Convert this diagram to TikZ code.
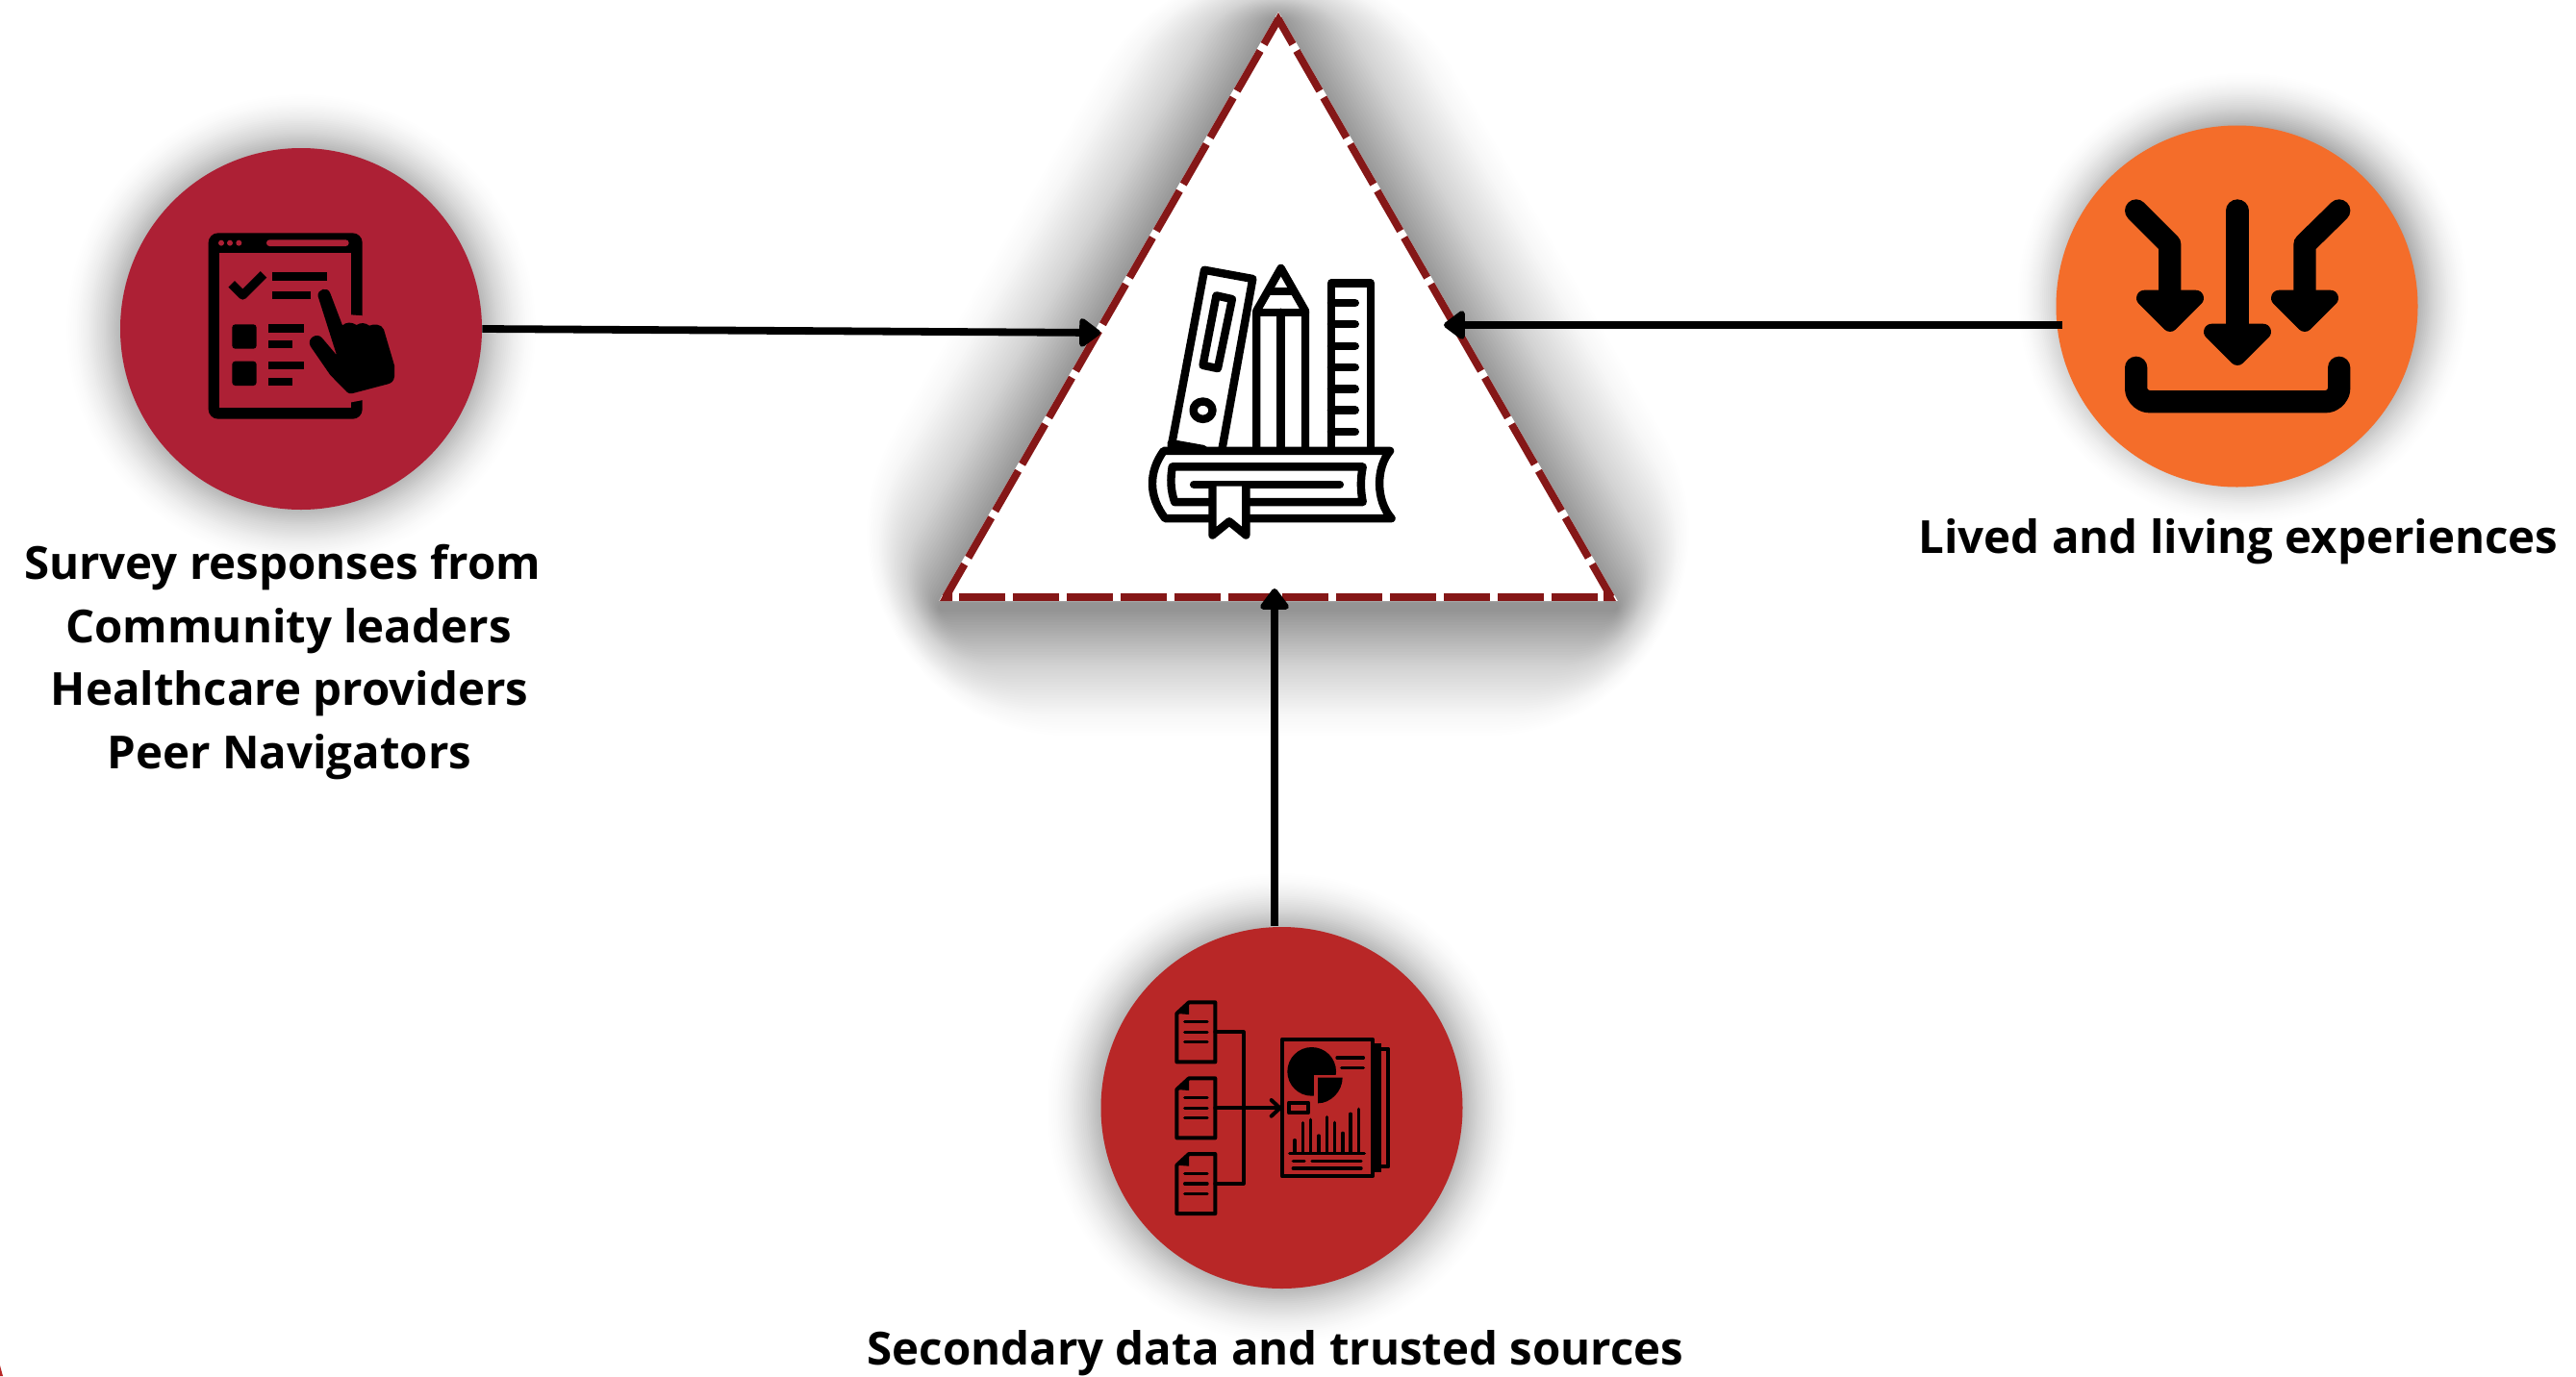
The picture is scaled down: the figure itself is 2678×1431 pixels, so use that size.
\documentclass[tikz,border=0pt]{standalone}
\usepackage{fontspec}
\setmainfont{Open Sans}
\usetikzlibrary{arrows.meta}
\definecolor{cA}{HTML}{AD2035}
\definecolor{cB}{HTML}{B82727}
\definecolor{cO}{HTML}{F46D2A}
\definecolor{cT}{HTML}{851717}
\tikzset{
 disc/.style={circle,inner sep=0pt,minimum size=188pt,fill=#1},
 label/.style={anchor=base,inner sep=0pt,font=\fontsize{23.7pt}{23.7pt}\selectfont\bfseries,text=black},
 link/.style={line width=3.9pt,black,-{Triangle[length=12pt,width=17pt,round]}},
 dashside/.style={cT,line width=3.9pt,dash pattern=on 24pt off 4pt},
 sk/.style={line cap=round,line join=round,draw=black},
}
\newcommand{\circshadow}[4]{% x y radius reach
 \foreach \i in {1,...,30}{
  \pgfmathsetmacro{\dd}{#4*\i/30}
  \pgfmathsetmacro{\oo}{0.0005+0.018*(1-\i/30)^0.7}
  \fill[black,opacity=\oo] (#1,#2) circle [radius=#3+\dd];
 }}
\begin{document}
\begin{tikzpicture}[x=0.5pt,y=-0.5pt]
\useasboundingbox (0,0) rectangle (2678,1431);
\fill[white] (0,0) rectangle (2678,1431);
\fill[cB] (0,1420)--(3,1431)--(0,1431)--cycle;

% shadows of the circles
\circshadow{313}{342}{182}{64}
\circshadow{2332}{310}{178}{58}
\circshadow{1332.5}{1152}{182}{64}

% shadow of the triangle
\foreach \i in {1,...,48}{
 \pgfmathsetmacro{\dd}{135*\i/48}
 \pgfmathsetmacro{\oo}{0.0005+0.0125*(1-\i/48)^0.5}
 \pgfmathsetmacro{\f}{1-0.6*\dd/204}
 \pgfmathsetmacro{\ax}{1328.5}
 \pgfmathsetmacro{\ay}{429-408*\f}
 \pgfmathsetmacro{\lx}{1328.5-352*\f}
 \pgfmathsetmacro{\rx}{1328.5+352*\f}
 \pgfmathsetmacro{\by}{429+204*\f}
 \pgfmathsetmacro{\w}{1.6*\dd}
 \draw[black,opacity=\oo,line join=round,line width=\w pt]
   (\ax,\ay)--(\lx,\by)--(\rx,\by)--cycle;
}

% triangle
\coordinate (apex) at (1329,20);
\coordinate (bl) at (983,621);
\coordinate (br) at (1675,621);
\fill[white] (1329,13)--(977,625)--(1680,625)--cycle;
\draw[white,line width=3.9pt] (apex)--(bl)--(br)--cycle;
\draw[dashside,dash phase=9pt] (apex)--(bl);
\draw[dashside,dash phase=9pt] (apex)--(br);
\draw[dashside,dash phase=21pt] (bl)--(br);
\fill[cT] (1329,13)--(1319,31)--(1329,24)--(1339,31)--cycle;
\fill[cT] (977,625)--(988,605)--(990,612)--(990,625)--cycle;
\fill[cT] (1680,625)--(1669,605)--(1667,612)--(1667,625)--cycle;

% circles
\node[disc=cA] (survey) at (313,342) {};
\node[disc=cO] (lived) at (2325.5,318.5) {};
\node[disc=cB] (secondary) at (1332.5,1152) {};

% connectors
\coordinate (tipL) at (1144,346);
\coordinate (tipR) at (1501,338);
\coordinate (tipB) at (1325,612);
\coordinate (fromR) at (2144,338);
\coordinate (fromB) at (1325,963);
\draw[link] (survey.east)--(tipL);
\draw[link] (fromR)--(tipR);
\draw[link] (fromB)--(tipB);

% book icon (coordinates of the zoomed crop)
\begin{scope}[shift={(950,0)},x=0.2488pt,y=-0.2294pt,sk,line width=4.2pt]
 \draw (538,1012)--(607,612)--(708,632)--(644,1018);
 \draw (538,1005)--(605,1018);
 \draw (632,670)--(665,678)--(635,835)--(604,828)--cycle;
 \draw (604,930) circle [radius=20];
 \draw (716,1018)--(716,705)--(767,608)--(818,705)--(818,1018);
 \draw (716,708)--(818,708);
 \draw (745,660)--(790,660);
 \draw (767,708)--(767,1018);
 \draw (872,1018)--(872,642)--(955,642)--(955,1018);
 \foreach \ty in {687,735,784,833,882,930,979}{\draw (872,\ty)--(922,\ty);}
 \draw (522,1022)--(995,1022) .. controls (965,1060) and (965,1135) .. (998,1175)
   --(525,1175) .. controls (490,1125) and (490,1070) .. (522,1022)--cycle;
 \draw (540,1058)--(938,1058) .. controls (933,1085) and (933,1110) .. (938,1138)
   --(545,1138) .. controls (536,1110) and (536,1085) .. (540,1058)--cycle;
 \draw (585,1098)--(890,1098);
 \draw[fill=white] (624,1102)--(624,1213)--(659,1182)--(694,1213)--(694,1102);
\end{scope}

% survey icon
\begin{scope}[shift={(180,210)},x=0.16667pt,y=-0.16667pt]
 \fill[black,rounded corners=5pt] (110,97) rectangle (590,677);
 \fill[cA] (145,160) rectangle (555,642);
 \foreach \dx in {150,177,205}{\fill[cA] (\dx,128) circle [radius=9];}
 \fill[cA,rounded corners=1.6pt] (291,118) rectangle (548,138);
 \fill[cA] (555,352)--(592,355)--(592,618)--(555,625)--cycle;
 \draw[black,line width=4.6pt,line join=round] (182,256)--(217,291)--(282,226);
 \fill[black] (310,220) rectangle (480,246);
 \fill[black] (310,278) rectangle (428,304);
 \fill[black,rounded corners=1.6pt] (184,382) rectangle (260,458);
 \fill[black] (297,382) rectangle (408,407);
 \fill[black] (297,432) rectangle (373,457);
 \fill[black,rounded corners=1.6pt] (184,497) rectangle (260,573);
 \fill[black] (297,497) rectangle (408,522);
 \fill[black] (297,548) rectangle (373,573);
 \fill[black] (452,295) .. controls (448,272) and (482,262) .. (490,285)
   --(528,385) .. controls (540,375) and (555,373) .. (572,384)
   .. controls (585,375) and (600,377) .. (612,386)
   .. controls (625,380) and (650,380) .. (657,398)
   --(690,510)--(690,545) .. controls (688,560) and (680,565) .. (670,568)
   --(560,597) .. controls (552,599) and (548,598) .. (542,593)
   --(490,540)--(428,450) .. controls (415,425) and (450,405) .. (465,425)
   --(510,478)--cycle;
\end{scope}

% lived experiences icon
\begin{scope}[shift={(2170,170)},x=0.16667pt,y=-0.16667pt,sk]
 \draw[line width=11.67pt] (152,147)--(257,252)--(257,405);
 \draw[line width=11.67pt] (468,147)--(468,510);
 \draw[line width=11.67pt] (785,147)--(678,252)--(678,405);
 \draw[fill=black,line width=8.3pt] (178,420)--(338,420)--(258,500)--cycle;
 \draw[fill=black,line width=8.3pt] (388,525)--(548,525)--(468,605)--cycle;
 \draw[fill=black,line width=8.3pt] (598,420)--(758,420)--(678,500)--cycle;
 \draw[line width=11.67pt,rounded corners=7pt] (152,637)--(152,743)--(785,743)--(785,637);
\end{scope}

% secondary data icon
\begin{scope}[shift={(1200,1020)},x=0.16667pt,y=-0.16667pt,sk,line width=2pt]
 \foreach \oy in {0,237,473}{
  \begin{scope}[yshift=-0.16667*\oy pt]
  \draw (70,102)--(108,67)--(190,67)--(190,253)--(70,253)--cycle;
  \fill[black] (70,102)--(108,67)--(108,105)--cycle;
  \foreach \ly in {128,160,191}{\draw[line width=1.7pt] (95,\ly)--(165,\ly);}
  \end{scope}
 }
 \draw (190,160)--(278,160)--(278,632)--(190,632);
 \draw (190,397)--(392,397);
 \draw (365,372)--(392,397)--(365,422);
 \fill[black] (680,195) rectangle (708,597);
 \draw (708,212)--(730,212)--(730,580)--(708,580);
 \draw (399,182) rectangle (680,610);
 \fill[black] (491,283) circle [radius=76];
 \fill[cB] (497,293) rectangle (600,400);
 \fill[black] (510,302)--(587,302) .. controls (587,345) and (550,382) .. (510,382)--cycle;
 \draw[line width=1.7pt] (570,240)--(652,240);
 \draw[line width=1.7pt] (584,272)--(652,272);
 \draw (420,380) rectangle (480,412);
 \foreach \bx/\by in {438/497,463/443,488/433,513/483,538/425,563/442,588/475,612/415,637/400}{
   \draw[line width=1.7pt] (\bx,\by)--(\bx,535);}
 \draw[line width=1.7pt] (422,538)--(655,538);
 \draw[line width=1.7pt] (433,562)--(468,562);
 \draw[line width=1.7pt] (492,562)--(645,562);
 \draw[line width=1.7pt] (433,585)--(645,585);
\end{scope}

% labels
\node[label] (t1) at (293.5,602) {Survey responses from};
\node[label] (t2) at (300,668) {Community leaders};
\node[label] (t3) at (301,733) {Healthcare providers};
\node[label] (t4) at (301,799) {Peer Navigators};
\node[label] (t5) at (2327,575) {Lived and living experiences};
\node[label] (t6) at (1326,1419) {Secondary data and trusted sources};
\end{tikzpicture}
\end{document}
